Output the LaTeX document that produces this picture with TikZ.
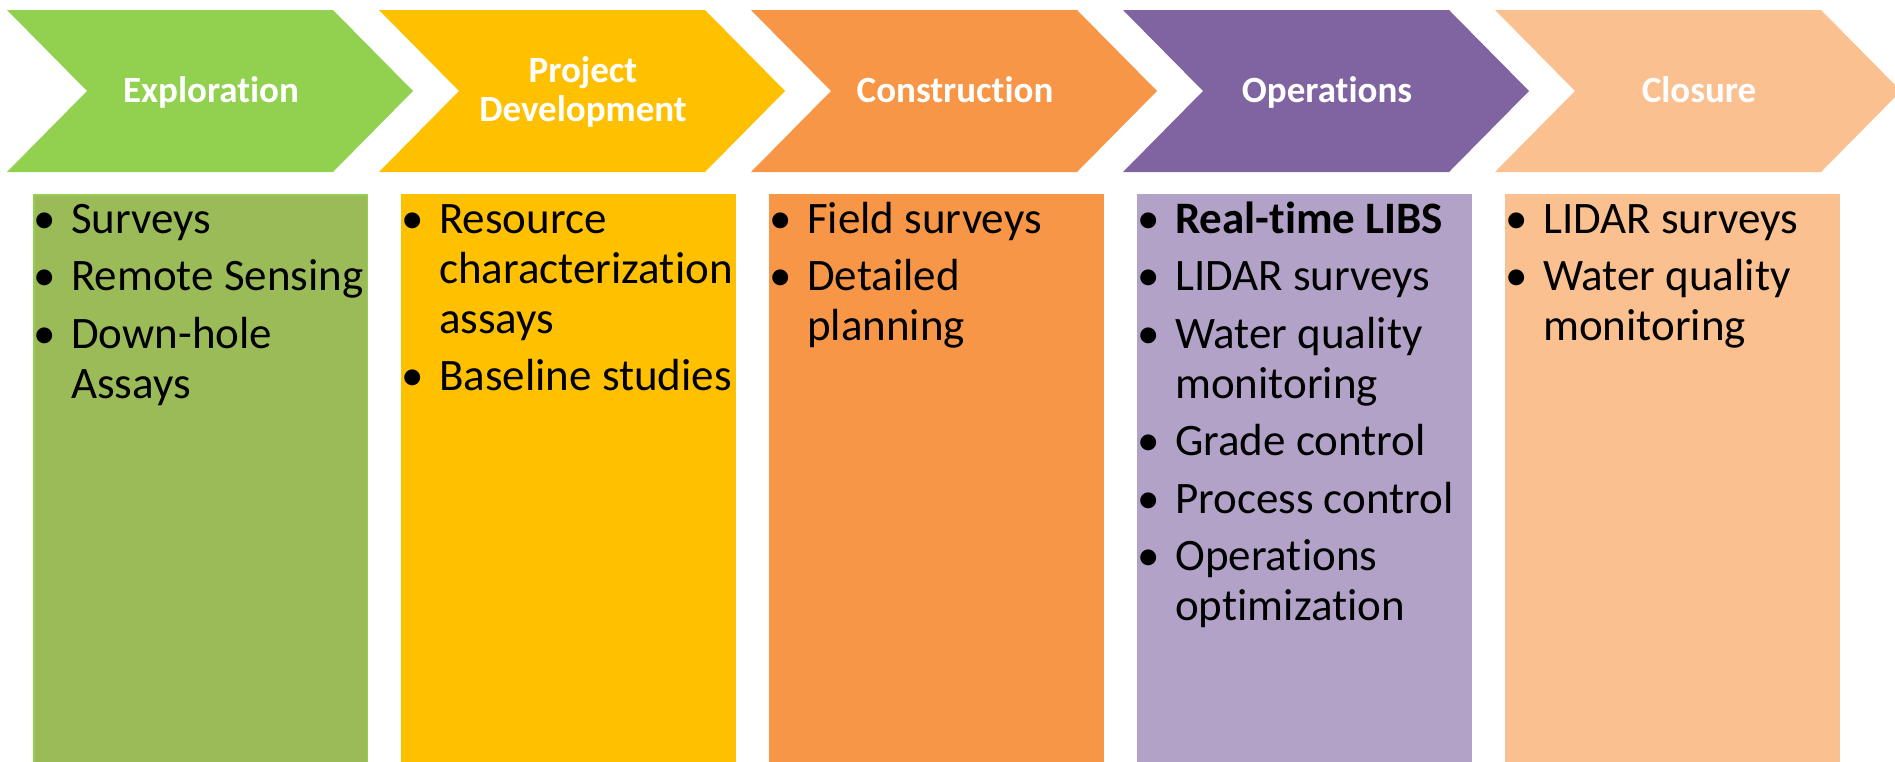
\documentclass[tikz,border=0pt]{standalone}
\usepackage{fontspec}
\setmainfont{Carlito}[Ligatures=NoCommon]
\usetikzlibrary{positioning}
\definecolor{GrA}{HTML}{92D050}
\definecolor{GrB}{HTML}{9BBB59}
\definecolor{Yel}{HTML}{FFC000}
\definecolor{Org}{HTML}{F79646}
\definecolor{PuA}{HTML}{8064A2}
\definecolor{PuB}{HTML}{B3A2C7}
\definecolor{Pch}{HTML}{FAC090}

\begin{document}
\begin{tikzpicture}[x=1pt, y=-1pt,
  hd/.style={font=\fontsize{37}{40}\selectfont\bfseries, text=white,
             anchor=base, inner sep=0pt},
  itm/.style={font=\fontsize{45}{50}\selectfont, anchor=base west, inner sep=0pt},
  bul/.style={font=\fontsize{45}{50}\selectfont, anchor=base, inner sep=0pt}
]
\useasboundingbox (0,0) rectangle (1895,761);
\clip (0,0) rectangle (1895,761);

% Phase chevrons
\foreach \i/\c in {0/GrA,1/Yel,2/Org,3/PuA,4/Pch}{
  \pgfmathsetmacro\L{7+372*\i}
  \fill[\c] (\L,10) -- ++(326,0) -- ++(80,81) -- ++(-80,81) -- ++(-326,0)
            -- ++(80,-81) -- cycle;
}
\node[hd] (hExp)  at (211,102) {Exploration};
\node[hd] (hDevA) at (583,82)  {Project};
\node[hd] (hDevB) at (583,121) {Development};
\node[hd] (hCon)  at (955,102) {Construction};
\node[hd] (hOps)  at (1327,102) {Operations};
\node[hd] (hClo)  at (1699,102) {Closure};

% Activity columns
\foreach \i/\c in {0/GrB,1/Yel,2/Org,3/PuB,4/Pch}{
  \pgfmathsetmacro\B{33+368*\i}
  \fill[\c] (\B,194) rectangle ++(335,600);
}
\draw[GrA, line width=1.5pt] (33.75,800) -- (33.75,194.75) -- (367.25,194.75) -- (367.25,800);

% Exploration
\foreach \y [count=\k] in {233,290.5,348}
  {\node[bul] (eb\k) at (45,\y) {•};}
\foreach \y/\t [count=\k] in {233/Surveys,290.5/Remote Sensing,348/Down-hole,398/Assays}
  {\node[itm] (et\k) at (71,\y) {\t};}

% Project development
\foreach \y [count=\k] in {233,390.5}
  {\node[bul] (db\k) at (413,\y) {•};}
\foreach \y/\t [count=\k] in {233/Resource,283/characterization,333/assays,390.5/Baseline studies}
  {\node[itm] (dt\k) at (439,\y) {\t};}

% Construction
\foreach \y [count=\k] in {233,290.5}
  {\node[bul] (cb\k) at (781,\y) {•};}
\foreach \y/\t [count=\k] in {233/Field surveys,290.5/Detailed,340.5/planning}
  {\node[itm] (ct\k) at (807,\y) {\t};}

% Operations
\foreach \y [count=\k] in {233,290.5,348,455.5,513,570.5}
  {\node[bul] (ob\k) at (1149,\y) {•};}
\node[itm] (ot1) at (1175,233) {\bfseries Real-time LIBS};
\foreach \y/\t [count=\k from 2] in {290.5/LIDAR surveys,348/Water quality,398/monitoring,
    455.5/Grade control,513/Process control,570.5/Operations,620.5/optimization}
  {\node[itm] (ot\k) at (1175,\y) {\t};}

% Closure
\foreach \y [count=\k] in {233,290.5}
  {\node[bul] (sb\k) at (1517,\y) {•};}
\foreach \y/\t [count=\k] in {233/LIDAR surveys,290.5/Water quality,340.5/monitoring}
  {\node[itm] (st\k) at (1543,\y) {\t};}
\end{tikzpicture}
\end{document}
